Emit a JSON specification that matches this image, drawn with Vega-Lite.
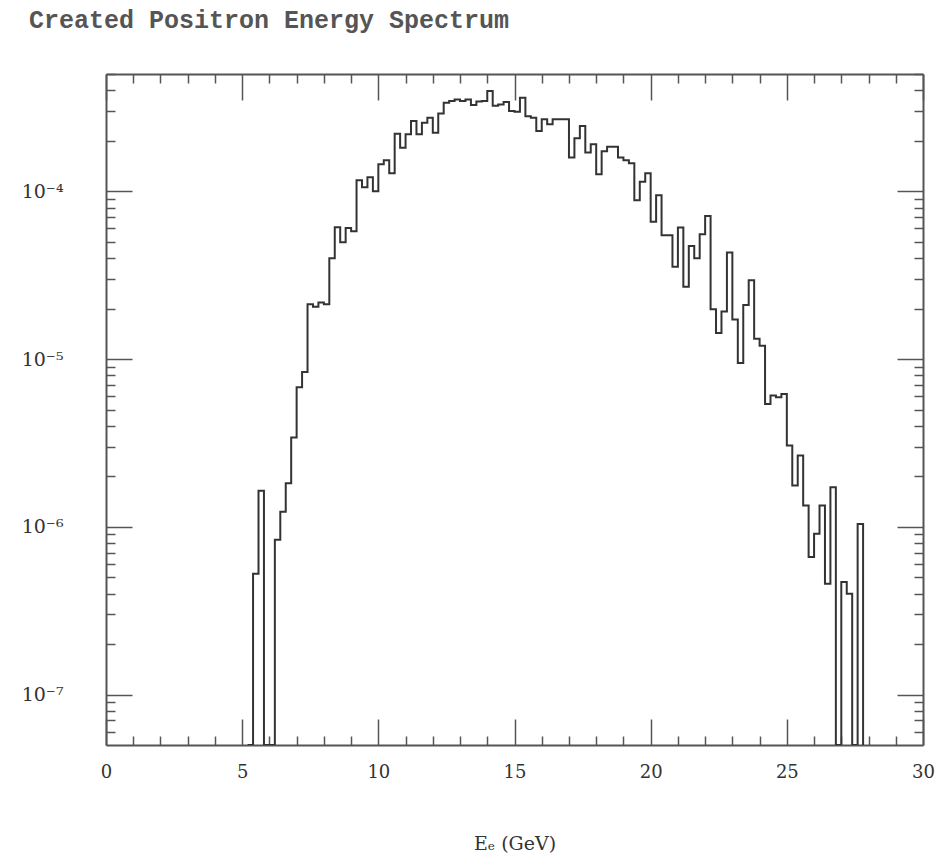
{
  "$schema": "https://vega.github.io/schema/vega-lite/v6.json",
  "width": 817,
  "height": 671,
  "autosize": {"type": "none"},
  "padding": {"left": 106, "top": 74, "right": 26, "bottom": 116},
  "background": "white",
  "title": {
    "text": "Created Positron Energy Spectrum",
    "anchor": "start",
    "frame": "group",
    "dx": -77,
    "offset": 32,
    "font": "Liberation Mono",
    "fontSize": 25,
    "fontWeight": "bold",
    "color": "#555555"
  },
  "config": {
    "view": {"stroke": null},
    "axis": {
      "grid": false,
      "domainColor": "#555555",
      "domainWidth": 2,
      "tickColor": "#555555",
      "tickWidth": 1.5,
      "labelFont": "DejaVu Serif",
      "labelFontSize": 18,
      "labelColor": "#333333",
      "titleFont": "DejaVu Serif",
      "titleFontSize": 19,
      "titleFontWeight": "normal",
      "titleColor": "#333333",
      "labelOverlap": false,
      "labelFlush": false
    }
  },
  "data": {
    "values": [
      {"e": 5.2, "v": 1e-9},
      {"e": 5.4, "v": 5.25e-7},
      {"e": 5.6, "v": 1.64e-6},
      {"e": 5.8, "v": 1e-9},
      {"e": 6.0, "v": 1e-9},
      {"e": 6.2, "v": 8.37e-7},
      {"e": 6.4, "v": 1.23e-6},
      {"e": 6.6, "v": 1.82e-6},
      {"e": 6.8, "v": 3.41e-6},
      {"e": 7.0, "v": 6.79e-6},
      {"e": 7.2, "v": 8.37e-6},
      {"e": 7.4, "v": 2.12e-5},
      {"e": 7.6, "v": 2.05e-5},
      {"e": 7.8, "v": 2.17e-5},
      {"e": 8.0, "v": 2.12e-5},
      {"e": 8.2, "v": 3.99e-5},
      {"e": 8.4, "v": 6.11e-5},
      {"e": 8.6, "v": 4.97e-5},
      {"e": 8.8, "v": 6.03e-5},
      {"e": 9.0, "v": 5.78e-5},
      {"e": 9.2, "v": 1.163e-4},
      {"e": 9.4, "v": 1.056e-4},
      {"e": 9.6, "v": 1.211e-4},
      {"e": 9.8, "v": 1.0e-4},
      {"e": 10.0, "v": 1.448e-4},
      {"e": 10.2, "v": 1.529e-4},
      {"e": 10.4, "v": 1.28e-4},
      {"e": 10.6, "v": 2.199e-4},
      {"e": 10.8, "v": 1.82e-4},
      {"e": 11.0, "v": 2.184e-4},
      {"e": 11.2, "v": 2.621e-4},
      {"e": 11.4, "v": 2.184e-4},
      {"e": 11.6, "v": 2.564e-4},
      {"e": 11.8, "v": 2.746e-4},
      {"e": 12.0, "v": 2.235e-4},
      {"e": 12.2, "v": 2.912e-4},
      {"e": 12.4, "v": 3.373e-4},
      {"e": 12.6, "v": 3.448e-4},
      {"e": 12.8, "v": 3.529e-4},
      {"e": 13.0, "v": 3.448e-4},
      {"e": 13.2, "v": 3.529e-4},
      {"e": 13.4, "v": 3.272e-4},
      {"e": 13.6, "v": 3.433e-4},
      {"e": 13.8, "v": 3.448e-4},
      {"e": 14.0, "v": 3.954e-4},
      {"e": 14.2, "v": 3.236e-4},
      {"e": 14.4, "v": 3.295e-4},
      {"e": 14.6, "v": 3.409e-4},
      {"e": 14.8, "v": 3.006e-4},
      {"e": 15.0, "v": 2.973e-4},
      {"e": 15.2, "v": 3.612e-4},
      {"e": 15.4, "v": 2.795e-4},
      {"e": 15.6, "v": 2.746e-4},
      {"e": 15.8, "v": 2.285e-4},
      {"e": 16.0, "v": 2.683e-4},
      {"e": 16.2, "v": 2.505e-4},
      {"e": 16.4, "v": 2.683e-4},
      {"e": 16.6, "v": 2.683e-4},
      {"e": 16.8, "v": 2.683e-4},
      {"e": 17.0, "v": 1.587e-4},
      {"e": 17.2, "v": 2.068e-4},
      {"e": 17.4, "v": 2.447e-4},
      {"e": 17.6, "v": 1.7e-4},
      {"e": 17.8, "v": 1.905e-4},
      {"e": 18.0, "v": 1.262e-4},
      {"e": 18.2, "v": 1.73e-4},
      {"e": 18.4, "v": 1.84e-4},
      {"e": 18.6, "v": 1.84e-4},
      {"e": 18.8, "v": 1.587e-4},
      {"e": 19.0, "v": 1.529e-4},
      {"e": 19.2, "v": 1.468e-4},
      {"e": 19.4, "v": 8.84e-5},
      {"e": 19.6, "v": 1.139e-4},
      {"e": 19.8, "v": 1.28e-4},
      {"e": 20.0, "v": 6.58e-5},
      {"e": 20.2, "v": 9.47e-5},
      {"e": 20.4, "v": 5.47e-5},
      {"e": 20.6, "v": 5.47e-5},
      {"e": 20.8, "v": 3.55e-5},
      {"e": 21.0, "v": 6.08e-5},
      {"e": 21.2, "v": 2.7e-5},
      {"e": 21.4, "v": 4.72e-5},
      {"e": 21.6, "v": 3.99e-5},
      {"e": 21.8, "v": 5.55e-5},
      {"e": 22.0, "v": 7.13e-5},
      {"e": 22.2, "v": 1.98e-5},
      {"e": 22.4, "v": 1.43e-5},
      {"e": 22.6, "v": 1.92e-5},
      {"e": 22.8, "v": 4.32e-5},
      {"e": 23.0, "v": 1.72e-5},
      {"e": 23.2, "v": 9.47e-6},
      {"e": 23.4, "v": 2.1e-5},
      {"e": 23.6, "v": 2.95e-5},
      {"e": 23.8, "v": 1.32e-5},
      {"e": 24.0, "v": 1.2e-5},
      {"e": 24.2, "v": 5.4e-6},
      {"e": 24.4, "v": 6.05e-6},
      {"e": 24.6, "v": 5.92e-6},
      {"e": 24.8, "v": 6.19e-6},
      {"e": 25.0, "v": 3.05e-6},
      {"e": 25.2, "v": 1.76e-6},
      {"e": 25.4, "v": 2.66e-6},
      {"e": 25.6, "v": 1.34e-6},
      {"e": 25.8, "v": 6.6e-7},
      {"e": 26.0, "v": 9.08e-7},
      {"e": 26.2, "v": 1.34e-6},
      {"e": 26.4, "v": 4.58e-7},
      {"e": 26.6, "v": 1.72e-6},
      {"e": 26.8, "v": 1e-9},
      {"e": 27.0, "v": 4.69e-7},
      {"e": 27.2, "v": 3.99e-7},
      {"e": 27.4, "v": 1e-9},
      {"e": 27.6, "v": 1.04e-6},
      {"e": 27.8, "v": 1e-9}
    ]
  },
  "layer": [
    {
      "mark": {"type": "line", "interpolate": "step-after", "color": "#333333", "strokeWidth": 2, "clip": true},
      "encoding": {
        "x": {
          "field": "e", "type": "quantitative",
          "scale": {"domain": [0, 30], "nice": false, "zero": false},
          "axis": {
            "orient": "bottom",
            "title": "Eₑ (GeV)",
            "titlePadding": 36,
            "values": [0,1,2,3,4,5,6,7,8,9,10,11,12,13,14,15,16,17,18,19,20,21,22,23,24,25,26,27,28,29,30],
            "labelExpr": "datum.value % 5 === 0 ? datum.label : ''",
            "tickSize": {"condition": {"test": "datum.value % 5 === 0", "value": -26}, "value": -9},
            "labelPadding": 44
          }
        },
        "y": {
          "field": "v", "type": "quantitative",
          "scale": {"type": "log", "domain": [5e-8, 5e-4], "nice": false, "clamp": true},
          "axis": {
            "orient": "left",
            "title": null,
            "values": [6e-8,7e-8,8e-8,9e-8,1e-7,2e-7,3e-7,4e-7,5e-7,6e-7,7e-7,8e-7,9e-7,1e-6,2e-6,3e-6,4e-6,5e-6,6e-6,7e-6,8e-6,9e-6,1e-5,2e-5,3e-5,4e-5,5e-5,6e-5,7e-5,8e-5,9e-5,1e-4,2e-4,3e-4,4e-4,5e-4],
            "labelExpr": "datum.value === 1e-4 ? '10⁻⁴' : datum.value === 1e-5 ? '10⁻⁵' : datum.value === 1e-6 ? '10⁻⁶' : datum.value === 1e-7 ? '10⁻⁷' : ''",
            "labelFontSize": 19,
            "tickSize": {"condition": {"test": "abs(log(datum.value)/LN10 - round(log(datum.value)/LN10)) < 0.001", "value": -26}, "value": -9},
            "labelPadding": 69
          }
        }
      }
    },
    {
      "mark": {"type": "line", "interpolate": "step-after", "strokeOpacity": 0, "clip": true},
      "encoding": {
        "x": {
          "field": "e", "type": "quantitative",
          "scale": {"domain": [0, 30], "nice": false, "zero": false},
          "axis": {
            "orient": "top",
            "title": null,
            "labels": false,
            "values": [0,1,2,3,4,5,6,7,8,9,10,11,12,13,14,15,16,17,18,19,20,21,22,23,24,25,26,27,28,29,30],
            "tickSize": {"condition": {"test": "datum.value % 5 === 0", "value": -26}, "value": -9}
          }
        },
        "y": {
          "field": "v", "type": "quantitative",
          "scale": {"type": "log", "domain": [5e-8, 5e-4], "nice": false, "clamp": true},
          "axis": {
            "orient": "right",
            "title": null,
            "labels": false,
            "values": [6e-8,7e-8,8e-8,9e-8,1e-7,2e-7,3e-7,4e-7,5e-7,6e-7,7e-7,8e-7,9e-7,1e-6,2e-6,3e-6,4e-6,5e-6,6e-6,7e-6,8e-6,9e-6,1e-5,2e-5,3e-5,4e-5,5e-5,6e-5,7e-5,8e-5,9e-5,1e-4,2e-4,3e-4,4e-4,5e-4],
            "tickSize": {"condition": {"test": "abs(log(datum.value)/LN10 - round(log(datum.value)/LN10)) < 0.001", "value": -26}, "value": -9}
          }
        }
      }
    }
  ],
  "resolve": {"axis": {"x": "independent", "y": "independent"}}
}
